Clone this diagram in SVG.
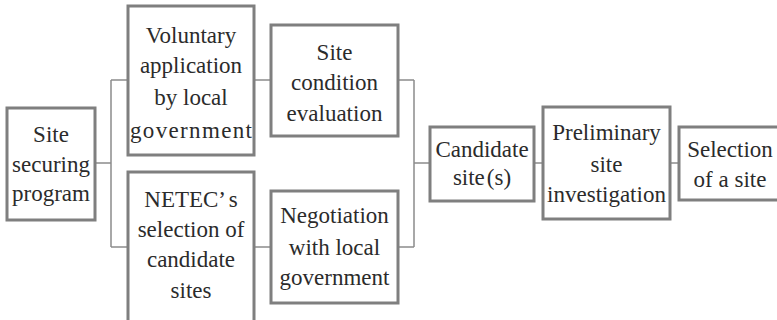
<svg xmlns="http://www.w3.org/2000/svg" width="777" height="320" viewBox="0 0 777 320">
<style>
.box{fill:#fff;stroke:#7f7f7f;stroke-width:3}
.con{fill:none;stroke:#8c8c8c;stroke-width:1.5}
.t text{font-family:'Liberation Serif','Times New Roman',serif;font-size:23px;fill:#2b2b2b;text-anchor:middle}
</style>
<rect width="777" height="320" fill="#fff"/>
<g id="connectors">
<path class="con" d="M95,163H111M111,80V247M111,80H128M111,247H128"/>
<path class="con" d="M254,80H271M254,247H271"/>
<path class="con" d="M398,80H414M398,247H414M414,80V247M414,163H430"/>
<path class="con" d="M534,163H543M670,163H679"/>
</g>
<g id="site-securing-program" class="t">
<rect class="box" x="7" y="108" width="88" height="112"/>
<text x="51" y="142">Site</text>
<text x="51" y="172">securing</text>
<text x="51" y="201">program</text>
</g>
<g id="voluntary-application" class="t">
<rect class="box" x="128" y="6" width="126" height="149"/>
<text x="191" y="43">Voluntary</text>
<text x="191" y="73">application</text>
<text x="191" y="105">by  local</text>
<text x="191" y="138" textLength="122" lengthAdjust="spacing">government</text>
</g>
<g id="netec-selection" class="t">
<rect class="box" x="128" y="172" width="126" height="156"/>
<text x="191" y="207">NETEC’<tspan dx="4">s</tspan></text>
<text x="191" y="237">selection  of</text>
<text x="191" y="267">candidate</text>
<text x="191" y="298">sites</text>
</g>
<g id="site-condition-evaluation" class="t">
<rect class="box" x="271" y="25" width="127" height="111"/>
<text x="334.5" y="60">Site</text>
<text x="334.5" y="90">condition</text>
<text x="334.5" y="121">evaluation</text>
</g>
<g id="negotiation" class="t">
<rect class="box" x="271" y="191" width="127" height="112"/>
<text x="334.5" y="223">Negotiation</text>
<text x="334.5" y="255">with  local</text>
<text x="334.5" y="285">government</text>
</g>
<g id="candidate-sites" class="t">
<rect class="box" x="430" y="127" width="104" height="74"/>
<text x="482" y="157">Candidate</text>
<text x="482" y="185">site<tspan dx="2">(s)</tspan></text>
</g>
<g id="preliminary-site-investigation" class="t">
<rect class="box" x="543" y="107" width="127" height="112"/>
<text x="606.5" y="140">Preliminary</text>
<text x="606.5" y="172">site</text>
<text x="606.5" y="202">investigation</text>
</g>
<g id="selection-of-a-site" class="t">
<rect class="box" x="679" y="127" width="110" height="73"/>
<text x="730" y="157">Selection</text>
<text x="730" y="187">of  a  site</text>
</g>
</svg>
